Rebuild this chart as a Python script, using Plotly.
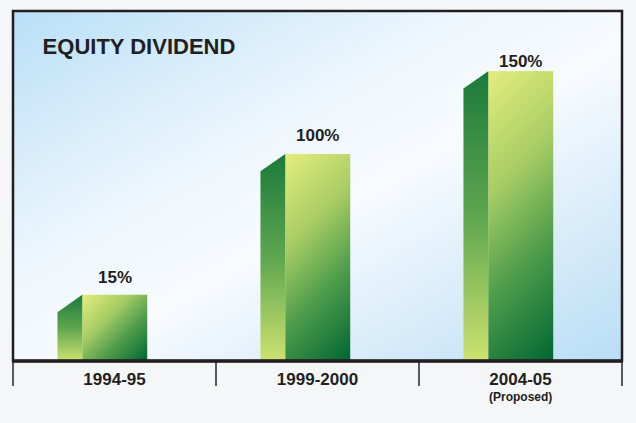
import plotly.graph_objects as go

# ---------------- data ----------------
CATEGORIES = ["1994-95", "1999-2000", "2004-05"]
DIVIDEND_PCT = [15, 100, 150]
CATEGORY_NOTES = ["", "", "(Proposed)"]
TITLE = "EQUITY DIVIDEND"

# ---------------- styling ----------------
FONT = "Liberation Sans, Arial, Helvetica, sans-serif"
INK = "#231f20"
AXIS_FLOOR = -25          # visual floor of the (pictorial) value axis
Y_TOP = 186.3
X_MIN, X_MAX = -0.5, 2.5
PLOT_W_PX, PLOT_H_PX = 609, 350
HALF_W = 0.159            # half width of front face (category units)
DEPTH = 0.122             # width of the side face
SLANT = 10.5              # drop of the side face's back edge (value units)
DX, DY = 0.001, 0.1       # tiny offsets so gradient stops sit on the face edges
LABEL_YSHIFT = [6, 7, -2]  # px offsets of the value labels above the bars

BG_SCALE = [[0, "#b9dff7"], [0.38, "#eef7fd"], [0.55, "#f8fbfe"], [1, "#b8ddf5"]]
BG_SHADE = [[0.5, 1.0], [0.0, 0.5]]  # bottom row, top row (diagonal gradient)
FRONT_SCALE = [[0, "#e4ed7d"], [0.35, "#a8cd65"], [0.65, "#4e9c4b"], [1, "#006633"]]
SIDE_SCALE = [[0, "#cde270"], [0.5, "#5ea64f"], [1, "#1b7a3b"]]

px_per_x = PLOT_W_PX / (X_MAX - X_MIN)
px_per_y = PLOT_H_PX / (Y_TOP - AXIS_FLOOR)


def diagonal_shade(w_px, h_px):
    """45-degree gradient stops (top-left -> bottom-right) for a w x h box."""
    tr = w_px / (w_px + h_px)
    bl = h_px / (w_px + h_px)
    bottom = [bl, bl, 1.0, 1.0]
    top = [0.0, 0.0, tr, tr]
    return [bottom, bottom, top, top]


fig = go.Figure()

# panel background gradient
fig.add_trace(go.Heatmap(
    x=[X_MIN, X_MAX], y=[AXIS_FLOOR, Y_TOP], z=BG_SHADE, zmin=0, zmax=1,
    colorscale=BG_SCALE, zsmooth="best", showscale=False, hoverinfo="skip"))

for i, (cat, v) in enumerate(zip(CATEGORIES, DIVIDEND_PCT)):
    left, right = i - HALF_W, i + HALF_W
    shade = diagonal_shade((right - left) * px_per_x, (v - AXIS_FLOOR) * px_per_y)
    # front face (diagonal gradient)
    fig.add_trace(go.Heatmap(
        x=[left + DX / 2, left + 1.5 * DX, right - 1.5 * DX, right - DX / 2],
        y=[AXIS_FLOOR + DY / 2, AXIS_FLOOR + 1.5 * DY, v - 1.5 * DY, v - DY / 2],
        z=shade, zmin=0, zmax=1, colorscale=FRONT_SCALE, zsmooth="best",
        showscale=False, name=cat, hovertemplate=f"{cat}: {v}%<extra></extra>"))
    # side face
    fig.add_trace(go.Scatter(
        x=[left - DEPTH, left, left, left - DEPTH, left - DEPTH],
        y=[AXIS_FLOOR, AXIS_FLOOR, v, v - SLANT, AXIS_FLOOR],
        mode="lines", line=dict(width=0), fill="toself",
        fillgradient=dict(type="vertical", colorscale=SIDE_SCALE),
        hoverinfo="skip", showlegend=False))
    # value label
    fig.add_annotation(x=i, y=v, xref="x", yref="y", text=f"{v}%",
                       showarrow=False, yanchor="bottom", yshift=LABEL_YSHIFT[i],
                       font=dict(family=FONT, size=17, color=INK, weight="bold"))

for i, note in enumerate(CATEGORY_NOTES):
    if note:
        fig.add_annotation(x=i, y=0, xref="x", yref="paper", text=note,
                           showarrow=False, yanchor="top", yshift=-27,
                           font=dict(family=FONT, size=12, color=INK, weight="bold"))

# frame
fig.add_shape(type="rect", xref="paper", yref="paper", x0=0, x1=1, y0=0, y1=1,
              line=dict(color=INK, width=2.5), layer="above")
fig.add_shape(type="line", xref="paper", yref="paper", x0=0, x1=1, y0=0, y1=0,
              line=dict(color=INK, width=3.5), layer="above")

fig.update_layout(
    width=636, height=423,
    margin=dict(l=13, r=14, t=11, b=62),
    paper_bgcolor="#f4f6f8", plot_bgcolor="#ffffff",
    showlegend=False,
    title=dict(text=TITLE, x=0.067, xanchor="left", xref="container",
               y=0.891, yanchor="middle", yref="container",
               font=dict(family=FONT, size=22, color=INK, weight="bold")),
    xaxis=dict(range=[X_MIN, X_MAX], showgrid=False, zeroline=False, showline=False,
               tickmode="array", tickvals=list(range(len(CATEGORIES))),
               ticktext=CATEGORIES, ticks="", ticklabelstandoff=6,
               tickfont=dict(family=FONT, size=17, color=INK, weight="bold"),
               minor=dict(ticks="outside", tick0=0.5, dtick=1, ticklen=24,
                          tickwidth=1.5, tickcolor="#5a5a5a", showgrid=False),
               fixedrange=True),
    yaxis=dict(range=[AXIS_FLOOR, Y_TOP], showgrid=False, zeroline=False,
               showline=False, showticklabels=False, ticks="", fixedrange=True),
)

fig.write_html("out.html", config={"displayModeBar": False},
               post_script="document.body.style.margin='0';")
